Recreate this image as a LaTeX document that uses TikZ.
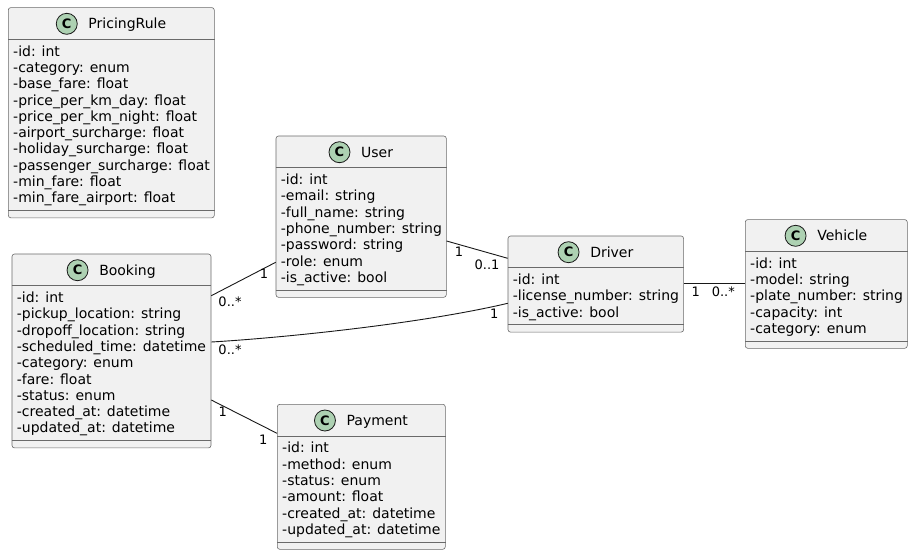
\documentclass[tikz,border=0pt]{standalone}
\usepackage{fontspec}
\setmainfont{DejaVu Sans}
\usetikzlibrary{calc}
\definecolor{boxfill}{HTML}{F1F1F1}
\definecolor{boxline}{HTML}{6A6A6A}
\definecolor{linkline}{HTML}{181818}
\definecolor{circfill}{HTML}{ADD1B2}
\tikzset{
  umlbox/.style={draw=boxline, line width=0.6pt, fill=boxfill, rounded corners=2.5pt, inner sep=0pt, anchor=north west},
  sepline/.style={draw=boxline, line width=0.6pt},
  ccirc/.style={circle, draw=linkline, line width=0.8pt, fill=circfill, minimum size=21pt, inner sep=0pt, font=\fontsize{13}{13}\selectfont\bfseries},
  titletext/.style={inner sep=0pt, anchor=base, font=\fontsize{14}{16}\selectfont},
  attrtext/.style={inner sep=0pt, anchor=base west, font=\fontsize{14}{16}\selectfont},
  assoc/.style={draw=linkline, line width=0.9pt},
  mult/.style={inner sep=0pt, font=\fontsize{13}{13}\selectfont},
}
% #1 name, #2 left, #3 top, #4 width, #5 number of rows, #6 title, #7 attributes
\newcommand\umlclass[7]{%
  \pgfmathsetmacro\hgt{47.2+#5*16.3}%
  \node[umlbox, minimum width=#4pt, minimum height=\hgt pt] (#1) at (#2,#3) {};
  \draw[sepline] ($(#1.north west)+(0,32)$) -- ($(#1.north east)+(0,32)$);
  \draw[sepline] ($(#1.south west)+(0,-7.7)$) -- ($(#1.south east)+(0,-7.7)$);
  \node[titletext] (#1t) at ($(#1.north)+(16,21.3)$) {#6};
  \coordinate (#1hc) at ($(#1.north)+(0,16.5)$);
  \coordinate (#1cx) at ($(#1t.west)+(-21.5,0)$);
  \node[ccirc] (#1c) at (#1cx |- #1hc) {C};
  \foreach \a [count=\i] in {#7} {
    \node[attrtext] at ($(#1.north west)+(5,32+16.8+\i*16.3-16.3)$) {\a};
  }%
}
\begin{document}
\begin{tikzpicture}[x=1pt,y=-1pt]
\useasboundingbox (0,0) rectangle (913,555);

\umlclass{pricing}{8}{7.3}{206}{10}{PricingRule}{-id: int,-category: enum,-base\_fare: float,-price\_per\_km\_day: float,-price\_per\_km\_night: float,-airport\_surcharge: float,-holiday\_surcharge: float,-passenger\_surcharge: float,-min\_fare: float,-min\_fare\_airport: float}

\umlclass{user}{275.7}{135.7}{170.3}{7}{User}{-id: int,-email: string,-full\_name: string,-phone\_number: string,-password: string,-role: enum,-is\_active: bool}

\umlclass{booking}{11.7}{253.7}{199}{9}{Booking}{-id: int,-pickup\_location: string,-dropoff\_location: string,-scheduled\_time: datetime,-category: enum,-fare: float,-status: enum,-created\_at: datetime,-updated\_at: datetime}

\umlclass{driver}{507.7}{235.7}{175.6}{3}{Driver}{-id: int,-license\_number: string,-is\_active: bool}

\umlclass{vehicle}{745}{219.3}{162}{5}{Vehicle}{-id: int,-model: string,-plate\_number: string,-capacity: int,-category: enum}

\umlclass{payment}{277}{404}{168}{6}{Payment}{-id: int,-method: enum,-status: enum,-amount: float,-created\_at: datetime,-updated\_at: datetime}

% connection points
\coordinate (bu) at ($(booking.north east)+(0,42)$);
\coordinate (ub) at ($(user.north west)+(0,126.6)$);
\coordinate (ud) at ($(user.north east)+(0,105.3)$);
\coordinate (du) at ($(driver.north west)+(0,22.6)$);
\coordinate (bd) at ($(booking.north east)+(0,88.3)$);
\coordinate (db) at ($(driver.north west)+(0,67.6)$);
\coordinate (bp) at ($(booking.north east)+(0,146.3)$);
\coordinate (pb) at ($(payment.north west)+(0,29.3)$);
\coordinate (dv) at ($(driver.north east)+(0,47.6)$);
\coordinate (vd) at ($(vehicle.north west)+(0,64)$);

\draw[assoc] (bu) -- (ub);
\draw[assoc] (ud) -- (du);
\draw[assoc] (bd) .. controls (280,338) and (420,324) .. (db);
\draw[assoc] (bp) -- (pb);
\draw[assoc] (dv) -- (vd);

\node[mult] (m1) at (230,301.7) {0..*};
\node[mult] (m2) at (264,274) {1};
\node[mult] (m3) at (459,251.7) {1};
\node[mult] (m4) at (487,265) {0..1};
\node[mult] (m5) at (230,350) {0..*};
\node[mult] (m6) at (494.3,314) {1};
\node[mult] (m7) at (222.7,411.7) {1};
\node[mult] (m8) at (263.3,439.3) {1};
\node[mult] (m9) at (695.7,291.7) {1};
\node[mult] (m10) at (723.3,291.7) {0..*};
\end{tikzpicture}
\end{document}
